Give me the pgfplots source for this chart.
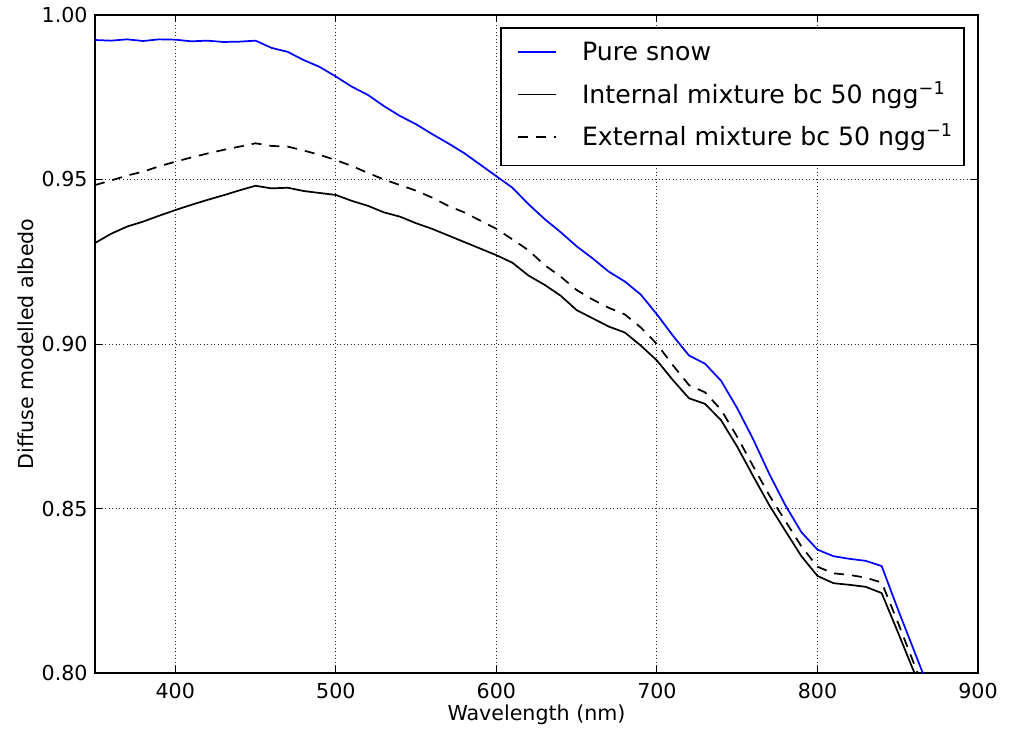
\documentclass[border=0pt]{standalone}
\usepackage{fontspec}
\setmainfont{DejaVu Sans}
\usepackage{pgfplots}
\pgfplotsset{compat=1.18}
\begin{document}
\begin{tikzpicture}
\useasboundingbox (-47.5pt,-27.5pt) rectangle (460pt,336.5pt);
\begin{axis}[
  at={(0,0)}, anchor=south west,
  scale only axis, width=441.5pt, height=329pt,
  xmin=350, xmax=900, ymin=0.80, ymax=1.00,
  xtick={400,500,600,700,800,900},
  ytick={0.80,0.85,0.90,0.95,1.00},
  tick align=inside, major tick length=3.45pt,
  tick style={black, line width=0.5pt},
  axis line style={black, line width=0.86pt},
  grid=major, grid style={black!85, line width=0.45pt, dash pattern=on 0.45pt off 1.3pt},
  /pgf/number format/assume math mode=true,
  yticklabel style={/pgf/number format/fixed, /pgf/number format/fixed zerofill, /pgf/number format/precision=2, anchor=east, inner sep=0pt, xshift=-3.5pt},
  xticklabel style={/pgf/number format/1000 sep={}, anchor=north, inner sep=0pt, yshift=-5pt},
  ticklabel style={font=\fontsize{10.3}{12}\selectfont},
  label style={font=\fontsize{10.3}{12}\selectfont},
  xlabel={Wavelength (nm)},
  ylabel={Diffuse modelled albedo},
  xlabel style={at={(axis description cs:0.5,-0.0471)}, anchor=north, inner sep=0pt},
  ylabel style={at={(axis description cs:-0.0691,0.5)}, anchor=south, inner sep=0pt},
  legend cell align=left,
  legend image code/.code={\path[draw=none,fill=none] (0pt,-2pt) rectangle (22pt,2pt); \draw[#1] (3pt,1.1pt) -- (22pt,1.1pt);},
  legend style={at={(rel axis cs:0.9853,0.9818)}, anchor=north east, draw=black, line width=0.86pt, fill=white,
    font=\fontsize{12.6}{14}\selectfont, inner xsep=5.5pt, inner ysep=6.8pt, row sep=8.6pt, column sep=12.5pt,
    nodes={inner sep=0pt, text height=9.5pt, text depth=3.2pt}},
]
\addplot[blue, line width=0.86pt] coordinates {
(350,0.9924) (360,0.9922) (370,0.9926) (380,0.9921) (390,0.9926) (400,0.9925)
(410,0.9920) (420,0.9922) (430,0.9918) (440,0.9919) (450,0.9922) (460,0.9900)
(470,0.9888) (480,0.9863) (490,0.9842) (500,0.9813) (510,0.9782) (520,0.9757)
(530,0.9723) (540,0.9693) (550,0.9668) (560,0.9638) (570,0.9610) (580,0.9580)
(590,0.9545) (600,0.9510) (610,0.9475) (620,0.9425) (630,0.9380) (640,0.9340)
(650,0.9297) (660,0.9260) (670,0.9220) (680,0.9190) (690,0.9150) (700,0.9090)
(710,0.9025) (720,0.8965) (730,0.8940) (740,0.8888) (750,0.8805) (760,0.8710)
(770,0.8605) (780,0.8510) (790,0.8428) (800,0.8375) (810,0.8355) (820,0.8347)
(830,0.8341) (840,0.8325) (850,0.8195) (860,0.8070) (870,0.7945)
};
\addlegendentry{Pure snow}
\addplot[black, line width=0.86pt] coordinates {
(350,0.9307) (360,0.9335) (370,0.9357) (380,0.9372) (390,0.9390) (400,0.9407)
(410,0.9423) (420,0.9438) (430,0.9452) (440,0.9467) (450,0.9481) (460,0.9473)
(470,0.9475) (480,0.9465) (490,0.9459) (500,0.9453) (510,0.9435) (520,0.9420)
(530,0.9400) (540,0.9387) (550,0.9367) (560,0.9350) (570,0.9330) (580,0.9310)
(590,0.9290) (600,0.9270) (610,0.9247) (620,0.9208) (630,0.9180) (640,0.9147)
(650,0.9103) (660,0.9078) (670,0.9053) (680,0.9035) (690,0.8995) (700,0.8950)
(710,0.8890) (720,0.8835) (730,0.8818) (740,0.8768) (750,0.8688) (760,0.8598)
(770,0.8510) (780,0.8432) (790,0.8355) (800,0.8295) (810,0.8273) (820,0.8268)
(830,0.8262) (840,0.8243) (850,0.8125) (860,0.8005) (870,0.7880)
};
\addlegendentry{Internal mixture bc 50 ngg\textsuperscript{−1}}
\addplot[black, line width=0.86pt, dash pattern=on 5pt off 4pt] coordinates {
(350,0.9483) (360,0.9497) (370,0.9512) (380,0.9524) (390,0.9540) (400,0.9554)
(410,0.9567) (420,0.9579) (430,0.9590) (440,0.9600) (450,0.9610) (460,0.9602)
(470,0.9600) (480,0.9588) (490,0.9575) (500,0.9559) (510,0.9541) (520,0.9520)
(530,0.9500) (540,0.9483) (550,0.9466) (560,0.9445) (570,0.9420) (580,0.9400)
(590,0.9375) (600,0.9350) (610,0.9318) (620,0.9285) (630,0.9240) (640,0.9205)
(650,0.9164) (660,0.9135) (670,0.9110) (680,0.9090) (690,0.9050) (700,0.9000)
(710,0.8935) (720,0.8875) (730,0.8853) (740,0.8800) (750,0.8718) (760,0.8628)
(770,0.8540) (780,0.8462) (790,0.8385) (800,0.8323) (810,0.8303) (820,0.8298)
(830,0.8290) (840,0.8275) (850,0.8155) (860,0.8030) (870,0.7900)
};
\addlegendentry{External mixture bc 50 ngg\textsuperscript{−1}}
\end{axis}
\end{tikzpicture}
\end{document}
